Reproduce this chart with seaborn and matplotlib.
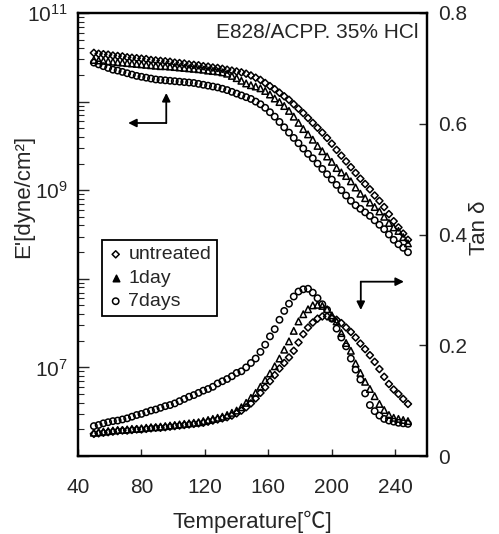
import numpy as np
import pandas as pd
import matplotlib
matplotlib.use("Agg")
import matplotlib.pyplot as plt
import seaborn as sns
from matplotlib.ticker import FixedLocator, FuncFormatter, LogLocator, NullFormatter

# ---------------- data ----------------
temperature = [50, 53, 56, 59, 62, 65, 68, 71, 74, 77,
               80, 83, 86, 89, 92, 95, 98, 101, 104, 107,
               110, 113, 116, 119, 122, 125, 128, 131, 134, 137,
               140, 143, 146, 149, 152, 155, 158, 161, 164, 167,
               170, 173, 176, 179, 182, 185, 188, 191, 194, 197,
               200, 203, 206, 209, 212, 215, 218, 221, 224, 227,
               230, 233, 236, 239, 242, 245, 248]

series_names = ["untreated", "1day", "7days"]

# log10 of E' [dyne/cm^2]
logE_untreated = [10.55, 10.54, 10.535, 10.53, 10.52, 10.515, 10.51, 10.50, 10.495, 10.49,
                  10.485, 10.48, 10.47, 10.465, 10.46, 10.455, 10.45, 10.44, 10.435, 10.43,
                  10.42, 10.415, 10.41, 10.40, 10.395, 10.385, 10.38, 10.37, 10.36, 10.35,
                  10.34, 10.33, 10.315, 10.295, 10.27, 10.245, 10.21, 10.175, 10.14, 10.10,
                  10.06, 10.02, 9.97, 9.92, 9.87, 9.815, 9.76, 9.705, 9.65, 9.59,
                  9.525, 9.455, 9.39, 9.325, 9.26, 9.195, 9.13, 9.07, 9.01, 8.94,
                  8.88, 8.81, 8.73, 8.65, 8.58, 8.51, 8.44]
logE_1day = [10.47, 10.465, 10.46, 10.455, 10.45, 10.445, 10.44, 10.435, 10.43, 10.425,
             10.42, 10.415, 10.41, 10.405, 10.40, 10.40, 10.395, 10.39, 10.385, 10.38,
             10.375, 10.37, 10.365, 10.36, 10.35, 10.345, 10.34, 10.33, 10.315, 10.29,
             10.265, 10.235, 10.205, 10.185, 10.17, 10.15, 10.12, 10.08, 10.035, 9.995,
             9.95, 9.895, 9.83, 9.76, 9.69, 9.63, 9.57, 9.50, 9.44, 9.38,
             9.32, 9.25, 9.20, 9.16, 9.10, 9.03, 8.96, 8.91, 8.86, 8.81,
             8.76, 8.70, 8.63, 8.58, 8.54, 8.47, 8.40]
logE_7days = [10.44, 10.42, 10.40, 10.38, 10.36, 10.35, 10.335, 10.32, 10.305, 10.29,
              10.28, 10.27, 10.26, 10.25, 10.245, 10.24, 10.235, 10.23, 10.225, 10.22,
              10.215, 10.21, 10.20, 10.19, 10.18, 10.17, 10.16, 10.145, 10.13, 10.11,
              10.09, 10.07, 10.05, 10.03, 10.00, 9.97, 9.93, 9.88, 9.83, 9.77,
              9.71, 9.65, 9.59, 9.53, 9.47, 9.41, 9.36, 9.30, 9.24, 9.18,
              9.12, 9.06, 9.00, 8.94, 8.88, 8.83, 8.79, 8.75, 8.71, 8.66,
              8.61, 8.56, 8.50, 8.44, 8.39, 8.35, 8.30]

# tan delta
tan_untreated = [0.040, 0.041, 0.042, 0.043, 0.044, 0.045, 0.046, 0.046, 0.047, 0.048,
                 0.048, 0.049, 0.050, 0.051, 0.051, 0.052, 0.053, 0.054, 0.055, 0.056,
                 0.057, 0.058, 0.059, 0.060, 0.062, 0.064, 0.066, 0.068, 0.070, 0.073,
                 0.077, 0.082, 0.088, 0.095, 0.104, 0.114, 0.124, 0.135, 0.146, 0.158,
                 0.168, 0.178, 0.190, 0.205, 0.220, 0.232, 0.241, 0.248, 0.252, 0.252,
                 0.249, 0.246, 0.240, 0.232, 0.224, 0.214, 0.203, 0.193, 0.182, 0.170,
                 0.157, 0.143, 0.130, 0.120, 0.112, 0.103, 0.094]
tan_1day = [0.042, 0.043, 0.044, 0.045, 0.046, 0.047, 0.047, 0.048, 0.049, 0.049,
            0.050, 0.051, 0.052, 0.052, 0.053, 0.054, 0.055, 0.056, 0.057, 0.058,
            0.059, 0.060, 0.061, 0.063, 0.065, 0.067, 0.069, 0.071, 0.074, 0.078,
            0.082, 0.088, 0.096, 0.105, 0.114, 0.125, 0.137, 0.149, 0.162, 0.176,
            0.192, 0.207, 0.226, 0.243, 0.256, 0.265, 0.272, 0.273, 0.271, 0.265,
            0.254, 0.243, 0.222, 0.204, 0.190, 0.167, 0.150, 0.134, 0.121, 0.108,
            0.094, 0.083, 0.074, 0.069, 0.067, 0.065, 0.063]
tan_7days = [0.054, 0.056, 0.059, 0.061, 0.063, 0.064, 0.066, 0.068, 0.071, 0.074,
             0.076, 0.079, 0.082, 0.084, 0.087, 0.090, 0.092, 0.095, 0.099, 0.103,
             0.107, 0.110, 0.114, 0.118, 0.121, 0.125, 0.131, 0.135, 0.139, 0.144,
             0.150, 0.153, 0.160, 0.168, 0.176, 0.188, 0.201, 0.216, 0.229, 0.246,
             0.262, 0.275, 0.288, 0.297, 0.301, 0.302, 0.295, 0.285, 0.274, 0.264,
             0.248, 0.230, 0.214, 0.198, 0.176, 0.156, 0.138, 0.113, 0.092, 0.081,
             0.073, 0.067, 0.064, 0.062, 0.060, 0.059, 0.058]

x_ticks = [40, 80, 120, 160, 200, 240]
left_decades = [6, 7, 8, 9, 10, 11]
left_labeled = [7, 9, 11]
right_ticks = [0, 0.2, 0.4, 0.6, 0.8]
right_tick_labels = ["0", "0.2", "0.4", "0.6", "0.8"]
note_text = "E828/ACPP. 35% HCl"
x_label = "Temperature[℃]"
left_label = "E'[dyne/cm²]"
right_label = "Tan δ"

# ---------------- table ----------------
logE = {"untreated": logE_untreated, "1day": logE_1day, "7days": logE_7days}
tand = {"untreated": tan_untreated, "1day": tan_1day, "7days": tan_7days}
frames = []
for name in series_names:
    frames.append(pd.DataFrame({"T": temperature,
                                "E": 10 ** np.array(logE[name]),
                                "tan": tand[name],
                                "series": name}))
df = pd.concat(frames, ignore_index=True)

# ---------------- style ----------------
sns.set_style("ticks")
plt.rcParams["font.family"] = ["Liberation Sans", "Noto Sans CJK KR", "DejaVu Sans"]
plt.rcParams["mathtext.fontset"] = "custom"
plt.rcParams["mathtext.rm"] = "Liberation Sans"
plt.rcParams["mathtext.it"] = "Liberation Sans:italic"
plt.rcParams["mathtext.bf"] = "Liberation Sans:bold"

fig = plt.figure(figsize=(4.99, 5.34), dpi=100)
ax = fig.add_axes([78 / 499, 1 - 456 / 534, 349 / 499, 443 / 534])
ax2 = ax.twinx()

markers = {"untreated": "D", "1day": "^", "7days": "o"}
sizes = {"untreated": 13, "1day": 22, "7days": 21}

for name in series_names:
    sub = df[df["series"] == name]
    sns.scatterplot(data=sub, x="T", y="E", ax=ax, marker=markers[name],
                    s=sizes[name], facecolor="none", edgecolor="black",
                    linewidth=1.1, label=name, legend=False, zorder=3)
    sns.scatterplot(data=sub, x="T", y="tan", ax=ax2, marker=markers[name],
                    s=sizes[name], facecolor="none", edgecolor="black",
                    linewidth=1.1, legend=False, zorder=3)

# axes scales / limits
ax.set_xlim(40, 260)
ax.set_yscale("log")
ax.set_ylim(1e6, 1e11)
ax2.set_ylim(0, 0.8)

ax.set_xticks(x_ticks)
ax.set_xticklabels([str(t) for t in x_ticks])
ax.yaxis.set_major_locator(FixedLocator([10.0 ** d for d in left_decades]))
ax.yaxis.set_major_formatter(FuncFormatter(
    lambda v, p: (r"$10^{%d}$" % int(round(np.log10(v))))
    if int(round(np.log10(v))) in left_labeled else ""))
ax.yaxis.set_minor_locator(LogLocator(base=10, subs=np.arange(2, 10), numticks=50))
ax.yaxis.set_minor_formatter(NullFormatter())

ax2.set_yticks(right_ticks)
ax2.set_yticklabels(right_tick_labels)

ax.xaxis.set_ticks_position("bottom")
ax.yaxis.set_ticks_position("left")
ax.tick_params(axis="y", which="major", direction="in", length=8, width=1,
               labelsize=15, pad=7)
ax.tick_params(axis="y", which="minor", direction="in", length=4, width=0.8)
ax.tick_params(axis="x", which="major", direction="in", length=5, width=1,
               labelsize=15, pad=16)
ax2.tick_params(axis="y", which="major", direction="in", length=6, width=1,
                labelsize=15, pad=8)

for a in (ax, ax2):
    for sp in a.spines.values():
        sp.set_linewidth(1.6)
        sp.set_color("black")

ax.set_xlabel(x_label, fontsize=16)
ax.xaxis.set_label_coords(0.5, -0.124)
ax.set_ylabel(left_label, fontsize=16)
ax.yaxis.set_label_coords(-0.125, 0.585)
ax2.set_ylabel(right_label, fontsize=16)
ax2.yaxis.set_label_coords(1.12, 0.515)

ax.text(0.977, 0.957, note_text, transform=ax.transAxes, ha="right",
        va="center", fontsize=15)

# arrows
arrow_kw = dict(arrowstyle="-|>", color="black", lw=1.3, mutation_scale=12,
                shrinkA=0, shrinkB=0)
ax.annotate("", xy=(0.2529, 0.8194), xytext=(0.2529, 0.7517),
            xycoords="axes fraction", textcoords="axes fraction", arrowprops=arrow_kw)
ax.annotate("", xy=(0.1437, 0.7517), xytext=(0.2529, 0.7517),
            xycoords="axes fraction", textcoords="axes fraction", arrowprops=arrow_kw)
ax2.annotate("", xy=(0.9339, 0.3935), xytext=(0.8103, 0.3935),
             xycoords="axes fraction", textcoords="axes fraction", arrowprops=arrow_kw)
ax2.annotate("", xy=(0.8103, 0.3296), xytext=(0.8103, 0.3935),
             xycoords="axes fraction", textcoords="axes fraction", arrowprops=arrow_kw)

handles, labels = ax.get_legend_handles_labels()
leg = ax2.legend(handles, labels, loc="upper left", bbox_to_anchor=(0.069, 0.4876),
                 frameon=True, fancybox=False, edgecolor="black", framealpha=1,
                 fontsize=14, handletextpad=0.25, handlelength=0.8, borderpad=0.3,
                 labelspacing=0.3, borderaxespad=0, markerscale=1.0)
leg.get_frame().set_linewidth(1.3)
leg_handles = getattr(leg, "legend_handles", None) or leg.legendHandles
leg_handles[1].set_facecolor("black")

fig.savefig("out.png", dpi=100)
